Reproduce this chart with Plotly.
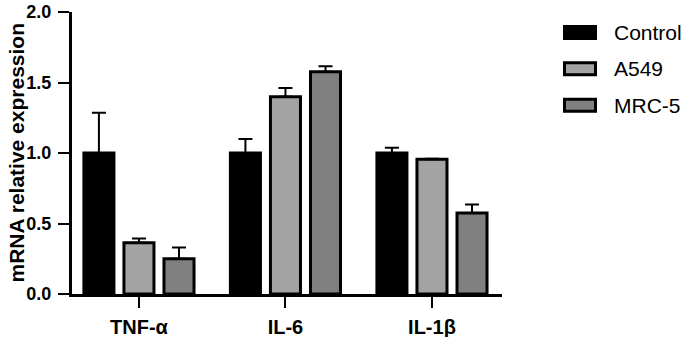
import plotly.graph_objects as go

# ---- data ----
categories = ["TNF-α", "IL-6", "IL-1β"]
series_names = ["Control", "A549", "MRC-5"]
control_vals = [1.0, 1.0, 1.0]
control_err = [0.285, 0.10, 0.037]
a549_vals = [0.363, 1.399, 0.956]
a549_err = [0.031, 0.062, 0.004]
mrc5_vals = [0.25, 1.576, 0.575]
mrc5_err = [0.08, 0.039, 0.06]
y_ticks = [0.0, 0.5, 1.0, 1.5, 2.0]
y_title = "mRNA relative expression"

fills = ["#000000", "#a3a3a3", "#808080"]

W, H = 688, 337
PL, PR, PT, PB = 72, 502, 11.5, 294.5          # plot area in window pixels
L, R, T, B = PL, W - PR, PT, H - PB
plot_w = PR - PL
plot_h = PB - PT

FONT = "Liberation Sans, Arial, sans-serif"

fig = go.Figure()
for name, vals, errs, col in zip(series_names,
                                 [control_vals, a549_vals, mrc5_vals],
                                 [control_err, a549_err, mrc5_err],
                                 fills):
    fig.add_trace(go.Bar(
        name=name, x=categories, y=vals,
        marker=dict(color=col, line=dict(color="#000000", width=3)),
        error_y=dict(type="data", array=errs, arrayminus=[0] * len(errs),
                     symmetric=False, color="#000000", thickness=2, width=7),
        showlegend=False,
    ))

fig.update_layout(
    width=W, height=H,
    margin=dict(l=L, r=R, t=T, b=B, autoexpand=False),
    paper_bgcolor="white", plot_bgcolor="white",
    barmode="group", bargap=0.18, bargroupgap=0.25,
    font=dict(family=FONT, color="#000000"),
)
fig.update_xaxes(
    type="category", range=[-0.457, 2.478], automargin=False,
    showline=True, linecolor="#000000", linewidth=3,
    ticks="outside", ticklen=11, tickwidth=2, tickcolor="#000000",
    tickfont=dict(size=20, family=FONT, weight="bold"),
    ticklabelstandoff=2,
    showgrid=False, zeroline=False,
)
fig.update_yaxes(
    range=[0, 2.0], tickvals=y_ticks, tickformat=".1f", automargin=False,
    showline=True, linecolor="#000000", linewidth=3,
    ticks="outside", ticklen=11, tickwidth=2, tickcolor="#000000",
    tickfont=dict(size=18, family=FONT, weight="bold"),
    ticklabelstandoff=3,
    showgrid=False, zeroline=False,
)

def px_x(px):
    return (px - PL) / plot_w

def px_y(py):
    return (PB - py) / plot_h

# y-axis title
fig.add_annotation(text=y_title, xref="paper", yref="paper",
                   x=px_x(17), y=px_y(152.5), xanchor="center", yanchor="middle",
                   textangle=-90, showarrow=False,
                   font=dict(size=21, family=FONT, weight="bold", color="#000000"))

# custom legend (wide rectangular keys like the reference)
legend_centers = [32, 68.5, 105]
for name, col, cy in zip(series_names, fills, legend_centers):
    fig.add_shape(type="rect", xref="paper", yref="paper",
                  x0=px_x(564.5), x1=px_x(595.5),
                  y0=px_y(cy + 6), y1=px_y(cy - 6),
                  fillcolor=col, line=dict(color="#000000", width=3))
    fig.add_annotation(text=name, xref="paper", yref="paper",
                       x=px_x(612), y=px_y(cy), xanchor="left", yanchor="middle",
                       showarrow=False, font=dict(size=21, family=FONT, color="#000000"))

fig.write_html("out.html",
               config={"displayModeBar": False},
               post_script="document.body.style.margin='0px';")
